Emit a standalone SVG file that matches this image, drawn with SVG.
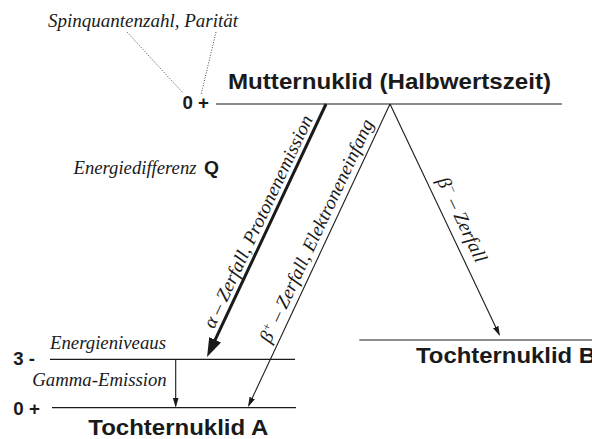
<svg xmlns="http://www.w3.org/2000/svg" width="592" height="439" viewBox="0 0 592 439">
<style>
.sans{font-family:"Liberation Sans",Arial,Helvetica,sans-serif;font-weight:bold;fill:#1a1a1a}
.it{font-family:"Liberation Serif","Times New Roman",serif;font-style:italic;fill:#1a1a1a}
.lvl{stroke:#1a1a1a;stroke-width:1.2;fill:none}
.thin{stroke:#1a1a1a;stroke-width:1.1;fill:none}
.dot{stroke:#333;stroke-width:0.9;stroke-dasharray:1 1.6;fill:none}
</style>
<defs>
<marker id="ah" markerUnits="userSpaceOnUse" markerWidth="12" markerHeight="7" refX="8" refY="2.9" orient="auto"><path d="M0,0 L10,2.9 L0,5.8 z" fill="#1a1a1a"/></marker>
<marker id="big" markerUnits="userSpaceOnUse" markerWidth="22" markerHeight="15" refX="13" refY="6.5" orient="auto"><path d="M0,0 L19,6.5 L0,13 z" fill="#1a1a1a"/></marker>
</defs>

<g id="annotation">
<text class="it" x="48" y="26.5" font-size="19" textLength="190" lengthAdjust="spacingAndGlyphs">Spinquantenzahl, Parität</text>
<text class="it" x="73.5" y="174.3" font-size="19" textLength="123" lengthAdjust="spacingAndGlyphs">Energiedifferenz</text>
<text class="sans" x="204" y="174.3" font-size="17.5" textLength="15" lengthAdjust="spacingAndGlyphs">Q</text>
</g>

<g id="mutter">
<line class="lvl" x1="216" y1="104" x2="562" y2="104"/>
<text class="sans" x="182.5" y="108.5" font-size="17.5" textLength="26.5" lengthAdjust="spacingAndGlyphs">0 +</text>
<text class="sans" x="228" y="89" font-size="22" textLength="323" lengthAdjust="spacingAndGlyphs">Mutternuklid (Halbwertszeit)</text>
</g>

<g id="tochterA">
<line class="lvl" x1="50" y1="359.3" x2="295" y2="359.3"/>
<line class="lvl" x1="52" y1="407.7" x2="296" y2="407.7"/>
<text class="sans" x="13.3" y="365" font-size="17.5" textLength="21.7" lengthAdjust="spacingAndGlyphs">3 -</text>
<text class="sans" x="13.3" y="415" font-size="17.5" textLength="26.7" lengthAdjust="spacingAndGlyphs">0 +</text>
<text class="it" x="50" y="349.3" font-size="19" textLength="116" lengthAdjust="spacingAndGlyphs">Energieniveaus</text>
<text class="it" x="32.3" y="386" font-size="19" textLength="134.4" lengthAdjust="spacingAndGlyphs">Gamma-Emission</text>
<text class="sans" x="88.3" y="435" font-size="22" textLength="180" lengthAdjust="spacingAndGlyphs">Tochternuklid A</text>
</g>

<g id="tochterB">
<line class="lvl" x1="359.3" y1="340" x2="592" y2="340"/>
<text class="sans" x="416" y="363.3" font-size="22" textLength="180" lengthAdjust="spacingAndGlyphs">Tochternuklid B</text>
</g>

<g id="connectors">
<line class="dot" x1="127" y1="32" x2="183" y2="93"/>
<line class="dot" x1="216" y1="32" x2="201" y2="95"/>
<line x1="326" y1="104" x2="209.6" y2="351.6" stroke="#1a1a1a" stroke-width="3" marker-end="url(#big)"/>
<line class="thin" x1="390" y1="104" x2="248.85" y2="405.2" marker-end="url(#ah)"/>
<line class="thin" x1="390" y1="104" x2="499.1" y2="334.2" marker-end="url(#ah)"/>
<line class="thin" x1="175.7" y1="359.3" x2="175.7" y2="405.7" marker-end="url(#ah)"/>
<text class="it" transform="translate(263.6,224.2) rotate(-64.8)" text-anchor="middle" font-size="19" textLength="233" lengthAdjust="spacingAndGlyphs">α – Zerfall, Protonenemission</text>
<text class="it" transform="translate(322.1,233.5) rotate(-64.9)" text-anchor="middle" font-size="19" textLength="244" lengthAdjust="spacingAndGlyphs">β<tspan font-size="12" dy="-7">+</tspan><tspan dy="7"> – Zerfall, Elektroneneinfang</tspan></text>
<text class="it" transform="translate(456.6,222.4) rotate(64.6)" text-anchor="middle" font-size="19" textLength="92" lengthAdjust="spacingAndGlyphs">β<tspan font-size="12" dy="-7">−</tspan><tspan dy="7"> – Zerfall</tspan></text>
</g>
</svg>
